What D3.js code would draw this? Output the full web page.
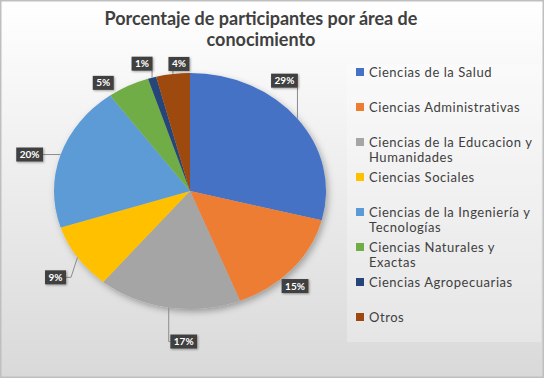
<!DOCTYPE html>
<html>
<head>
<meta charset="utf-8">
<script src="https://cdnjs.cloudflare.com/ajax/libs/d3/7.8.5/d3.min.js"></script>
<style>
    body { margin: 0; }
</style>
</head>
<body>
<svg class="areaPie"></svg>
<script>
// data
const categories = [
    "Ciencias de la Salud",
    "Ciencias Administrativas",
    "Ciencias de la Educacion y Humanidades",
    "Ciencias Sociales",
    "Ciencias de la Ingeniería y Tecnologías",
    "Ciencias Naturales y Exactas",
    "Ciencias Agropecuarias",
    "Otros"
];
const percents = [29, 15, 17, 9, 20, 5, 1, 4];
// legend text split the way the original wraps it
const legendLines = [
    ["Ciencias de la Salud"],
    ["Ciencias Administrativas"],
    ["Ciencias de la Educacion y", "Humanidades"],
    ["Ciencias Sociales"],
    ["Ciencias de la Ingeniería y", "Tecnologías"],
    ["Ciencias Naturales y", "Exactas"],
    ["Ciencias Agropecuarias"],
    ["Otros"]
];
const colors = ["#4472C4", "#ED7D31", "#A5A5A5", "#FFC000", "#5B9BD5", "#70AD47", "#264478", "#9E480E"];

// label box offsets from the slice edge, and whether a leader line is drawn
const labelOffsets = [[-13, -38], [3, 17], [15, 34], [-22, 20], [-31, 0], [-25, -3], [-10, -14], [6, -10]];
const labelLeader = [true, false, true, true, true, false, true, true];

const width = 545, height = 379;
const cx = 190, cy = 191, ry = 118, rx = 136;

const svg = d3.select(".areaPie")
    .attr("width", width)
    .attr("height", height);

const defs = svg.append("defs");
const grad = defs.append("linearGradient")
    .attr("id", "bg")
    .attr("x1", 0).attr("y1", 0).attr("x2", 0).attr("y2", 1);
grad.append("stop").attr("offset", "0%").attr("stop-color", "#ffffff");
grad.append("stop").attr("offset", "100%").attr("stop-color", "#d9d9d9");

defs.append("filter")
    .attr("id", "shadow")
    .attr("x", "-20%").attr("y", "-20%").attr("width", "140%").attr("height", "140%")
    .append("feDropShadow")
    .attr("dx", 2).attr("dy", 3)
    .attr("stdDeviation", 3)
    .attr("flood-color", "#000")
    .attr("flood-opacity", 0.3);

defs.append("filter")
    .attr("id", "boxShadow")
    .attr("x", "-30%").attr("y", "-30%").attr("width", "160%").attr("height", "160%")
    .append("feDropShadow")
    .attr("dx", 1).attr("dy", 1)
    .attr("stdDeviation", 1)
    .attr("flood-color", "#000")
    .attr("flood-opacity", 0.35);

// background + frame
svg.append("rect")
    .attr("x", 0.75).attr("y", 0.75)
    .attr("width", width - 2.5).attr("height", height - 2.5)
    .attr("fill", "url(#bg)")
    .attr("stroke", "#bfbfbf")
    .attr("stroke-width", 1.5);

// title
const title = svg.append("text")
    .attr("text-anchor", "middle")
    .style("font-family", "Lato")
    .style("font-weight", "700")
    .style("font-size", "18px")
    .style("fill", "#404040");
title.append("tspan").attr("x", 261).attr("y", 25).text("Porcentaje de participantes por área de");
title.append("tspan").attr("x", 261).attr("y", 46).text("conocimiento");

// pie
const pie = d3.pie().sort(null).value(d => d);
const arcs = pie(percents);
const arc = d3.arc().innerRadius(0).outerRadius(ry);
const edgeArc = d3.arc().innerRadius(ry).outerRadius(ry);

const pieG = svg.append("g")
    .attr("transform", `translate(${cx},${cy}) scale(${rx / ry},1)`)
    .attr("filter", "url(#shadow)");

pieG.selectAll("path")
    .data(arcs)
    .enter()
    .append("path")
    .attr("d", arc)
    .attr("fill", (d, i) => colors[i]);

// labels
const labelG = svg.append("g");
arcs.forEach(function(d, i) {
    const c = edgeArc.centroid(d);
    const ex = cx + c[0] * rx / ry, ey = cy + c[1];
    const lx = ex + labelOffsets[i][0], ly = ey + labelOffsets[i][1];

    const g = labelG.append("g");
    const rect = g.append("rect").attr("fill", "#404040").attr("filter", "url(#boxShadow)");
    const t = g.append("text")
        .attr("x", lx).attr("y", ly + 3.5)
        .attr("text-anchor", "middle")
        .style("font-family", "Lato")
        .style("font-weight", "700")
        .style("font-size", "10px")
        .style("fill", "#ffffff")
        .text(percents[i] + "%");
    const bw = t.node().getBBox().width + 7, bh = 14;
    const x0 = lx - bw / 2, y0 = ly - bh / 2;
    rect.attr("x", x0).attr("y", y0).attr("width", bw).attr("height", bh);

    if (labelLeader[i]) {
        let pts;
        if (ex > x0 + bw) {
            pts = [[ex, ey], [x0 + bw + 5, ly], [x0 + bw, ly]];
        } else if (ex < x0) {
            pts = [[ex, ey], [ex, ly], [x0, ly]];
        } else {
            pts = [[ex, ey], [ex, ey < ly ? y0 : y0 + bh]];
        }
        labelG.insert("path", ":first-child")
            .attr("d", d3.line()(pts))
            .attr("fill", "none")
            .attr("stroke", "#8c8c8c")
            .attr("stroke-width", 1);
    }
});

// legend
const legendG = svg.append("g");
legendG.append("rect")
    .attr("x", 347).attr("y", 64)
    .attr("width", 194).attr("height", 278)
    .attr("fill", "#ffffff")
    .attr("fill-opacity", 0.28);

const legendY = d3.scaleLinear().domain([0, categories.length - 1]).range([72, 317]);

const items = legendG.selectAll(".item")
    .data(categories)
    .enter()
    .append("g")
    .attr("class", "item")
    .attr("transform", (d, i) => `translate(356,${legendY(i)})`);

items.append("rect")
    .attr("x", 0).attr("y", -4)
    .attr("width", 8).attr("height", 8)
    .attr("fill", (d, i) => colors[i]);

items.append("text")
    .style("font-family", "Lato")
    .style("font-size", "13px")
    .style("letter-spacing", "0.55px")
    .style("fill", "#404040")
    .each(function(d, i) {
        d3.select(this).selectAll("tspan")
            .data(legendLines[i])
            .enter()
            .append("tspan")
            .attr("x", 13)
            .attr("y", (l, j) => 4.5 + j * 15.5)
            .text(l => l);
    });
</script>
</body>
</html>
